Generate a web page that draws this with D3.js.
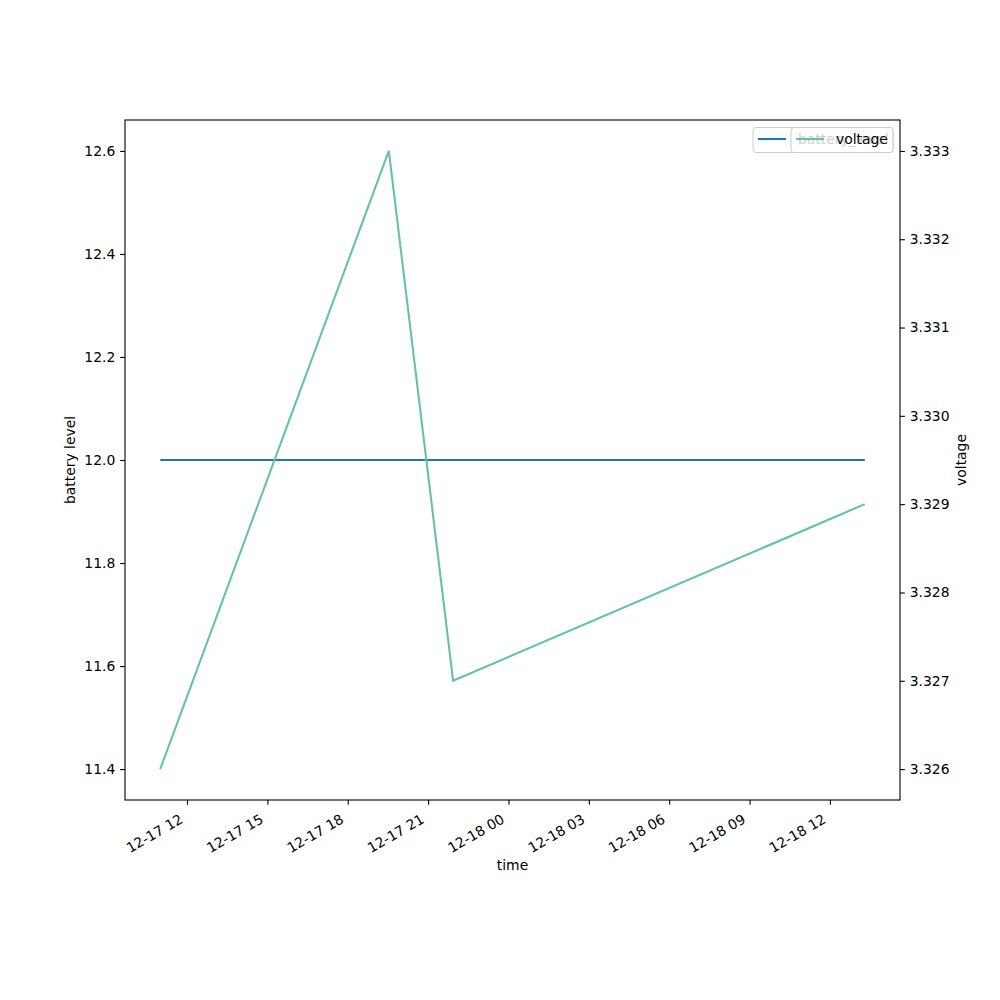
<!DOCTYPE html>
<html>
<head>
<meta charset="utf-8">
<script src="https://cdn.jsdelivr.net/npm/d3@7"></script>
<style>
body { margin: 0; background: #fff; }
svg { font-family: "DejaVu Sans", sans-serif; }
</style>
</head>
<body>
<svg id="chart" width="1000" height="1000"></svg>
<script>
const times = ["2023-12-17T11:00", "2023-12-17T19:32", "2023-12-17T21:56", "2023-12-18T13:18"];
const batteryLevel = [12.0, 12.0, 12.0, 12.0];
const voltage = [3.326, 3.333, 3.327, 3.329];
const xTickTimes = ["2023-12-17T12:00", "2023-12-17T15:00", "2023-12-17T18:00", "2023-12-17T21:00",
  "2023-12-18T00:00", "2023-12-18T03:00", "2023-12-18T06:00", "2023-12-18T09:00", "2023-12-18T12:00"];
const leftTicks = [11.4, 11.6, 11.8, 12.0, 12.2, 12.4, 12.6];
const rightTicks = [3.326, 3.327, 3.328, 3.329, 3.330, 3.331, 3.332, 3.333];
const seriesNames = ["battery_level", "voltage"];
const colors = ["#1f77b4", "#66c2a5"];

const parse = d3.timeParse("%Y-%m-%dT%H:%M");
const tData = times.map(parse);
const tTicks = xTickTimes.map(parse);

const L = 125, R = 900, T = 120, B = 800;
const fs = 13.9;
const svg = d3.select("#chart");

const t0 = tData[0].getTime(), t1 = tData[tData.length - 1].getTime();
const tpad = (t1 - t0) * 0.05;
const x = d3.scaleTime().domain([new Date(t0 - tpad), new Date(t1 + tpad)]).range([L, R]);

// left: constant data -> expanded to 11.4..12.6 then 5% margin
const yL = d3.scaleLinear().domain([11.34, 12.66]).range([B, T]);
const vmin = d3.min(voltage), vmax = d3.max(voltage), vpad = (vmax - vmin) * 0.05;
const yR = d3.scaleLinear().domain([vmin - vpad, vmax + vpad]).range([B, T]);

const tickLen = 4.86, tickPad = 4.86;

// lines
const lineL = d3.line().x((d, i) => x(tData[i])).y(d => yL(d));
const lineR = d3.line().x((d, i) => x(tData[i])).y(d => yR(d));
svg.append("path").datum(batteryLevel).attr("d", lineL)
  .attr("fill", "none").attr("stroke", colors[0]).attr("stroke-width", 2.08);
svg.append("path").datum(voltage).attr("d", lineR)
  .attr("fill", "none").attr("stroke", colors[1]).attr("stroke-width", 2.08);

// frame
svg.append("rect").attr("x", L).attr("y", T).attr("width", R - L).attr("height", B - T)
  .attr("fill", "none").attr("stroke", "#000").attr("stroke-width", 1.1);

// x axis
const xa = svg.append("g").attr("transform", `translate(0,${B})`)
  .call(d3.axisBottom(x).tickValues(tTicks).tickSize(tickLen).tickPadding(tickPad).tickFormat(d3.timeFormat("%m-%d %H")));
xa.select(".domain").remove();
xa.selectAll("line").attr("stroke", "#000").attr("stroke-width", 1.1);
xa.selectAll("text").attr("font-size", fs).attr("fill", "#000").attr("font-family", "DejaVu Sans")
  .attr("text-anchor", "end").attr("y", 0).attr("dy", 0)
  .attr("transform", "translate(-3.5,22) rotate(-30)");

// left axis
const la = svg.append("g").attr("transform", `translate(${L},0)`)
  .call(d3.axisLeft(yL).tickValues(leftTicks).tickSize(tickLen).tickPadding(tickPad).tickFormat(d3.format(".1f")));
la.select(".domain").remove();
la.selectAll("line").attr("stroke", "#000").attr("stroke-width", 1.1);
la.selectAll("text").attr("font-size", fs).attr("fill", "#000").attr("font-family", "DejaVu Sans");

// right axis
const ra = svg.append("g").attr("transform", `translate(${R},0)`)
  .call(d3.axisRight(yR).tickValues(rightTicks).tickSize(tickLen).tickPadding(tickPad).tickFormat(d3.format(".3f")));
ra.select(".domain").remove();
ra.selectAll("line").attr("stroke", "#000").attr("stroke-width", 1.1);
ra.selectAll("text").attr("font-size", fs).attr("fill", "#000").attr("font-family", "DejaVu Sans");

// axis labels
svg.append("text").attr("x", (L + R) / 2).attr("y", 870).attr("text-anchor", "middle")
  .attr("font-size", fs).text("time");
svg.append("text").attr("transform", `translate(75,${(T + B) / 2}) rotate(-90)`).attr("text-anchor", "middle")
  .attr("font-size", fs).text("battery level");
svg.append("text").attr("transform", `translate(966,${(T + B) / 2}) rotate(-90)`).attr("text-anchor", "middle")
  .attr("font-size", fs).text("voltage");

// legends (two overlapping, as in the reference)
function legend(x0, x1, name, color) {
  const g = svg.append("g");
  g.append("rect").attr("x", x0).attr("y", 127.5).attr("width", x1 - x0).attr("height", 25)
    .attr("rx", 3).attr("fill", "#fff").attr("fill-opacity", 0.8)
    .attr("stroke", "#ccc").attr("stroke-width", 1);
  g.append("line").attr("x1", x0 + 5).attr("x2", x0 + 33).attr("y1", 139).attr("y2", 139)
    .attr("stroke", color).attr("stroke-width", 2.08);
  g.append("text").attr("x", x0 + 45).attr("y", 144).attr("font-size", fs).text(name);
}
legend(753, 893, seriesNames[0], colors[0]);
legend(791, 893, seriesNames[1], colors[1]);
</script>
</body>
</html>
